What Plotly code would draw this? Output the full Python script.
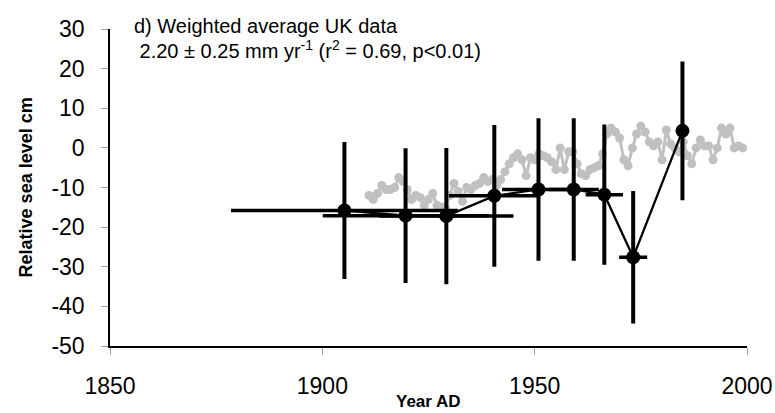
import plotly.graph_objects as go

# Annual tide-gauge series (grey)
gauge_years = list(range(1911, 2000))
gauge_values = [
    -12, -13, -11.5, -9.5, -10.5, -10.5, -10, -7.5, -8.5, -10.5,
    -13, -12, -12.5, -14.5, -13, -11.5, -14.5, -15, -15, -12,
    -9, -11, -13.5, -10, -10.5, -9.5, -9, -7.5, -8.5, -8,
    -9.5, -8, -6, -4, -2.5, -1.5, -3, -7, -2.5, -3,
    -1.5, -2, -2.5, -3.5, -5.5, 0, -5.5, -1, -1, -4,
    -6.5, -7, -5.5, -5, -4.5, -1.5, 3.5, 5, 4, 2.5,
    -3, -4.5, 0, 3.5, 5.5, 4, 1.5, 0.5, 1.5, -3,
    4.5, 1, 0, -1, 1.5, -2, -4, 0, 2, 0.5,
    0.5, -3, 0, 5, 3.5, 5, 0, 0.5, 0,
]

# Weighted average UK data (black)
avg_years = [1905.2, 1919.6, 1929.2, 1940.5, 1950.9, 1959.2, 1966.4, 1973.2, 1984.8]
avg_values = [-15.8, -17.1, -17.2, -12.1, -10.5, -10.5, -11.8, -27.6, 4.3]
avg_yerr = [17.3, 17.0, 17.2, 17.9, 18.0, 18.0, 17.7, 16.7, 17.5]
avg_xerr = [26.7, 19.5, 15.8, 10.7, 8.6, 5.9, 4.4, 3.3, 0]

x_ticks = [1850, 1900, 1950, 2000]
y_ticks = [-50, -40, -30, -20, -10, 0, 10, 20, 30]

FONT = "Liberation Sans, Arial, sans-serif"

fig = go.Figure()
fig.add_trace(go.Scatter(
    x=gauge_years, y=gauge_values, mode="lines+markers",
    line=dict(color="#c0c0c0", width=3),
    marker=dict(color="#c0c0c0", size=9),
    showlegend=False, hoverinfo="skip",
))
fig.add_trace(go.Scatter(
    x=avg_years, y=avg_values, mode="lines+markers",
    line=dict(color="black", width=2.3),
    marker=dict(color="black", size=14),
    error_y=dict(type="data", array=avg_yerr, visible=True, color="black", thickness=4, width=0),
    error_x=dict(type="data", array=avg_xerr, visible=True, color="black", thickness=3.5, width=0),
    showlegend=False,
))

fig.update_layout(
    width=775, height=413,
    margin=dict(l=110, r=28, t=29, b=67),
    paper_bgcolor="white", plot_bgcolor="white",
    font=dict(family=FONT, color="black"),
    xaxis=dict(
        range=[1850, 2000], tickvals=x_ticks, ticktext=[str(v) for v in x_ticks],
        showgrid=False, zeroline=False, showline=True, linecolor="black", linewidth=1.5,
        ticks="outside", ticklen=7, tickcolor="#a0a0a0", tickwidth=1,
        tickfont=dict(size=23, family=FONT), ticklabelstandoff=12, automargin=False,
    ),
    yaxis=dict(
        range=[-50, 30], tickvals=y_ticks, ticktext=[str(v) for v in y_ticks],
        showgrid=False, zeroline=False, showline=True, linecolor="black", linewidth=1.5,
        ticks="outside", ticklen=7, tickcolor="#a0a0a0", tickwidth=1,
        tickfont=dict(size=23, family=FONT), ticklabelstandoff=12, automargin=False,
    ),
    annotations=[
        dict(text="d) Weighted average UK data", xref="paper", yref="paper",
             x=0.0347, y=1.01, xanchor="left", yanchor="middle", showarrow=False,
             font=dict(size=20, family=FONT, color="black")),
        dict(text=" 2.20 ± 0.25 mm yr<sup>-1</sup> (r<sup>2</sup> = 0.69, p<0.01)", xref="paper", yref="paper",
             x=0.0347, y=0.934, xanchor="left", yanchor="middle", showarrow=False,
             font=dict(size=20, family=FONT, color="black")),
        dict(text="<b>Year AD</b>", xref="paper", yref="paper",
             x=0.5, y=-0.176, xanchor="center", yanchor="middle", showarrow=False,
             font=dict(size=17, family=FONT, color="black")),
        dict(text="<b>Relative sea level cm</b>", xref="paper", yref="paper",
             x=-0.132, y=0.5, xanchor="center", yanchor="middle", showarrow=False,
             textangle=-90, font=dict(size=18, family=FONT, color="black")),
    ],
)

fig.write_html("out.html")
